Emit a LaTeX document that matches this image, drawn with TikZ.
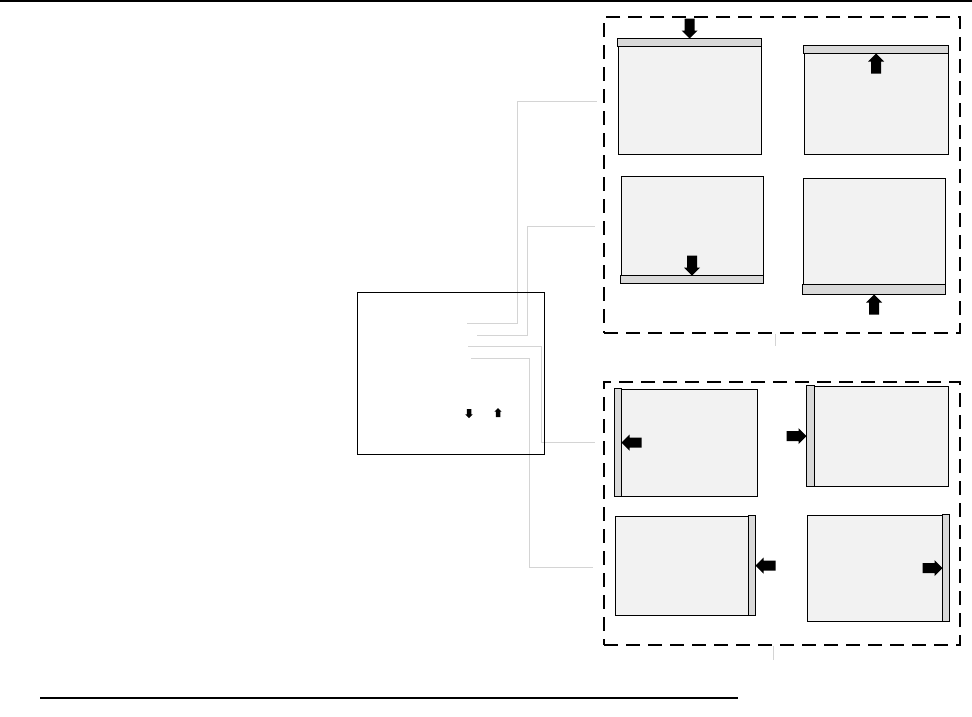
\documentclass[tikz,border=0pt]{standalone}
\usepackage{tikz}
\usetikzlibrary{positioning}
\definecolor{panefill}{HTML}{F2F2F2}
\definecolor{barfill}{HTML}{D9D9D9}
\definecolor{leadgray}{HTML}{D4D4D4}

\begin{document}
\begin{tikzpicture}[x=1pt,y=-1pt,
  panel/.style={draw,fill=panefill,line width=1pt,inner sep=0pt},
  grp/.style={draw,line width=2pt,dash pattern=on 14pt off 8pt,inner sep=0pt},
  menubox/.style={draw,line width=1pt,inner sep=0pt},
  barstrip/.style={draw,fill=barfill,line width=1pt},
  lead/.style={draw=leadgray,line width=1pt},
  blk/.pic={\fill (0,0) -- (-8,-8) -- (-8,-5) -- (-20,-5) -- (-20,5) -- (-8,5) -- (-8,8) -- cycle;}]
  \useasboundingbox (0,0) rectangle (972,716);

  % page rules
  \draw[line width=1.5pt] (0,1) -- (972,1);
  \draw[line width=1.3pt] (40,698) -- (738,698);

  % groups
  \node[grp,minimum width=356,minimum height=316] (gtop) at (782,175) {};
  \node[grp,minimum width=356,minimum height=263] (gbot) at (782,513.5) {};

  % top group: bars at top and bottom
  \node[panel,minimum width=143,minimum height=115] (pa) at (689.5,96.5) {};
  \node[panel,minimum width=144,minimum height=108] (pb) at (876,100) {};
  \node[panel,minimum width=142,minimum height=107] (pc) at (692,229.5) {};
  \node[panel,minimum width=142,minimum height=116] (pd) at (874,236) {};
  \draw[barstrip] (pa.north west) rectangle ([yshift=-8pt]pa.north east);
  \draw[barstrip] (pb.north west) rectangle ([yshift=-8pt]pb.north east);
  \draw[barstrip] (pc.south west) rectangle ([yshift=8pt]pc.south east);
  \draw[barstrip] (pd.south west) rectangle ([yshift=10pt]pd.south east);
  \pic[rotate=-90] at (pa.north) {blk};
  \pic[rotate=90] at ([yshift=-8pt]pb.north) {blk};
  \pic[rotate=-90] at ([yshift=8pt]pc.south) {blk};
  \pic[rotate=90] at (pd.south) {blk};

  % bottom group: bars left and right
  \node[panel,minimum width=142,minimum height=107] (pe) at (686,442.5) {};
  \node[panel,minimum width=141,minimum height=100] (pf) at (877.5,436) {};
  \node[panel,minimum width=140,minimum height=99] (pg) at (685,565.5) {};
  \node[panel,minimum width=142,minimum height=106] (ph) at (878,568) {};
  \draw[barstrip] (pe.south west) rectangle ([xshift=7pt]pe.north west);
  \draw[barstrip] (pf.south west) rectangle ([xshift=8pt]pf.north west);
  \draw[barstrip] (pg.south east) rectangle ([xshift=-7pt]pg.north east);
  \draw[barstrip] (ph.south east) rectangle ([xshift=-7pt]ph.north east);
  \pic[rotate=180] at ([xshift=7pt]pe.west) {blk};
  \pic at (pf.west) {blk};
  \pic[rotate=180] at (pg.east) {blk};
  \pic at ([xshift=-7pt]ph.east) {blk};

  % leaders from the menu
  \coordinate (s1) at (467,323); \coordinate (k1) at (517,101); \coordinate (e1) at (597,101);
  \coordinate (s2) at (477,335); \coordinate (k2) at (527,226); \coordinate (e2) at (595,226);
  \coordinate (s3) at (468,346); \coordinate (k3) at (541,442); \coordinate (e3) at (595,442);
  \coordinate (s4) at (471,358); \coordinate (k4) at (529,567); \coordinate (e4) at (593,567);
  \draw[lead] (s1) -| (k1) -- (e1);
  \draw[lead] (s2) -| (k2) -- (e2);
  \draw[lead] (s3) -| (k3) -- (e3);
  \draw[lead] (s4) -| (k4) -- (e4);
  \draw[lead] ([xshift=-7pt]gtop.south) -- ++(0,12);
  \draw[lead] ([xshift=-9pt]gbot.south) -- ++(0,14);

  \node[menubox,minimum width=187,minimum height=162] (menu) at (450.5,373) {};
  \pic[rotate=-90,scale=0.45] at (469,418) {blk};
  \pic[rotate=90,scale=0.45] at (498,408) {blk};
\end{tikzpicture}
\end{document}
